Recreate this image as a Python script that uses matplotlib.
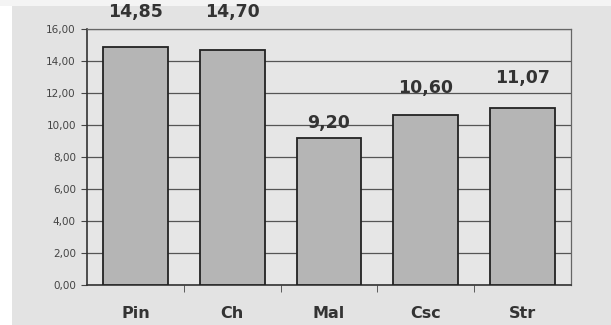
import numpy as np
import matplotlib.pyplot as plt
from matplotlib.patches import Rectangle

categorias = ['Pin', 'Ch', 'Mal', 'Csc', 'Str']
valores = [14.85, 14.70, 9.20, 10.60, 11.07]
yticks = [0, 2, 4, 6, 8, 10, 12, 14, 16]
# distancia do rotulo ao topo da barra (em unidades do eixo)
desloc = [2.2, 2.35, 0.95, 1.7, 1.85]

def virgula(v):
    return f'{v:.2f}'.replace('.', ',')

fig = plt.figure(figsize=(6.11, 3.25), dpi=100)
fig.patch.set_facecolor('#e3e3e3')
# faixas claras nas bordas da folha
fig.patches.append(Rectangle((0, 0), 12 / 611, 1, transform=fig.transFigure,
                             facecolor='white', edgecolor='none', zorder=-1))
fig.patches.append(Rectangle((0, 1 - 6 / 325), 1, 6 / 325, transform=fig.transFigure,
                             facecolor='#f4f4f4', edgecolor='none', zorder=-1))

ax = fig.add_axes([87 / 611, 40 / 325, 484 / 611, 256 / 325])
ax.set_facecolor('#e6e6e6')

x = np.arange(len(categorias))
ax.bar(x, valores, width=0.67, color='#b5b5b5', edgecolor='#222222',
       linewidth=1.3, zorder=3)

for xi, v, d in zip(x, valores, desloc):
    ax.text(xi, v + d, virgula(v), ha='center', va='center', clip_on=False,
            fontsize=12.5, fontweight='bold', color='#333333')

ax.set_xlim(-0.5, len(categorias) - 0.5)
ax.set_ylim(0, 16)
ax.set_yticks(yticks)
ax.set_yticklabels([virgula(v) for v in yticks], fontsize=7.5, color='#444444')
ax.yaxis.grid(True, color='#555555', linewidth=0.9, zorder=0)

ax.set_xticks(x)
ax.set_xticklabels(categorias, fontsize=11.5, fontweight='bold', color='#333333')
ax.tick_params(axis='x', length=0, pad=15)
ax.set_xticks(x[:-1] + 0.5, minor=True)
ax.tick_params(axis='x', which='minor', length=5, color='#444444')
ax.tick_params(axis='y', length=4, color='#444444', pad=4)

for lado in ['left', 'bottom']:
    ax.spines[lado].set_color('#333333')
    ax.spines[lado].set_linewidth(1.2)
for lado in ['top', 'right']:
    ax.spines[lado].set_color('#666666')
    ax.spines[lado].set_linewidth(0.9)

fig.savefig('out.png', dpi=100, facecolor=fig.get_facecolor())
